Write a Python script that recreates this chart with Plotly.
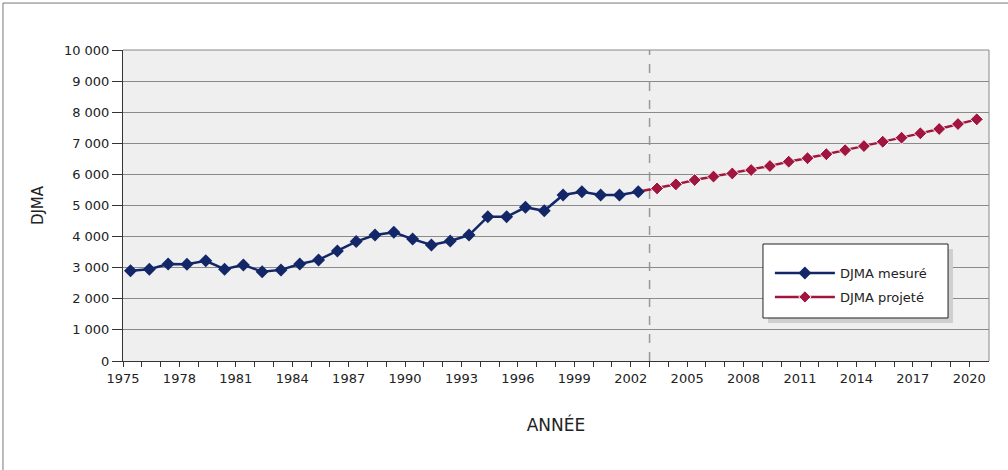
import plotly.graph_objects as go

years_measured = list(range(1975, 2003))
djma_measured = [2900, 2950, 3120, 3110, 3220, 2950, 3090, 2870, 2930, 3120,
                 3250, 3540, 3840, 4050, 4140, 3920, 3730, 3860, 4050, 4640,
                 4640, 4940, 4830, 5340, 5440, 5340, 5340, 5440]
years_projected = list(range(2002, 2021))
djma_projected = [5440, 5550, 5680, 5820, 5930, 6030, 6140, 6270, 6410, 6520,
                  6650, 6780, 6910, 7050, 7180, 7320, 7460, 7620, 7770]
all_years = list(range(1975, 2021))
y_ticks = list(range(0, 10001, 1000))

BLUE = "#132768"
RED = "#a1163f"
FONT = "DejaVu Sans, Liberation Sans, Arial, sans-serif"

fig = go.Figure()
fig.add_trace(go.Scatter(
    x=years_projected, y=djma_projected, mode="lines+markers",
    name="DJMA projeté", legendrank=2, legendgroup="p",
    line=dict(color=RED, width=2.5),
    marker=dict(symbol="diamond", size=[0] + [10] * (len(years_projected) - 1),
                color=RED, opacity=1),
))
fig.add_trace(go.Scatter(
    x=years_measured, y=djma_measured, mode="lines+markers",
    name="DJMA mesuré", legendrank=1, legendgroup="m",
    line=dict(color=BLUE, width=2.5),
    marker=dict(symbol="diamond", size=10, color=BLUE, opacity=1),
))

# offset ticks half a category to the left like the original
tickvals = [y - 0.4 for y in all_years]
ticktext = [str(y) if (y - 1975) % 3 == 0 else "" for y in all_years]

fig.update_layout(
    width=1008, height=470,
    margin=dict(l=123, r=19, t=50, b=109),
    paper_bgcolor="white", plot_bgcolor="#efefef",
    font=dict(family=FONT, size=13, color="#222"),
    separators=", ",
    showlegend=True,
    legend=dict(x=0.747, y=0.331, xanchor="left", yanchor="top",
                bgcolor="rgba(0,0,0,0)", borderwidth=0,
                font=dict(size=13, family=FONT, color="#222"),
                itemwidth=60, tracegroupgap=4, traceorder="grouped"),
    xaxis=dict(range=[1974.6, 2020.65], tickmode="array", tickvals=tickvals,
               ticktext=ticktext, ticks="outside", ticklen=5, tickcolor="#333",
               showgrid=False, showline=True, linecolor="#333", linewidth=1,
               zeroline=False, tickfont=dict(size=13),
               title=dict(text="ANNÉE", font=dict(size=17), standoff=34)),
    yaxis=dict(range=[0, 10000], tickvals=y_ticks, tickformat=",d",
               ticks="outside", ticklen=10, tickcolor="#333",
               showgrid=True, gridcolor="#8a8a8a", gridwidth=1,
               showline=True, linecolor="#333", linewidth=1, zeroline=False,
               tickfont=dict(size=13),
               title=dict(text="DJMA", font=dict(size=15), standoff=16)),
    shapes=[
        # outer frame
        dict(type="rect", xref="paper", yref="paper", x0=-0.1386, x1=1.05,
             y0=-0.5, y1=1.151, line=dict(color="#777", width=1), layer="below"),
        # plot border top/right
        dict(type="line", xref="paper", yref="paper", x0=0, x1=1, y0=1, y1=1,
             line=dict(color="#888", width=1)),
        dict(type="line", xref="paper", yref="paper", x0=1, x1=1, y0=0, y1=1,
             line=dict(color="#888", width=1)),
        # dashed separator
        dict(type="line", xref="x", yref="paper", x0=2002.6, x1=2002.6, y0=0, y1=1,
             line=dict(color="#999", width=1.5, dash="dash"), layer="below"),
        # legend shadow
        dict(type="rect", xref="paper", yref="paper", x0=0.7448, x1=0.9584,
             y0=0.1222, y1=0.360, fillcolor="#cfcfcf", line=dict(width=0),
             layer="above"),
        # legend box
        dict(type="rect", xref="paper", yref="paper", x0=0.739, x1=0.9527,
             y0=0.1383, y1=0.3762, fillcolor="white",
             line=dict(color="#222", width=1), layer="above"),
    ],
)

fig.write_html("out.html", config={"displayModeBar": False},
               post_script="document.body.style.margin='0';")
